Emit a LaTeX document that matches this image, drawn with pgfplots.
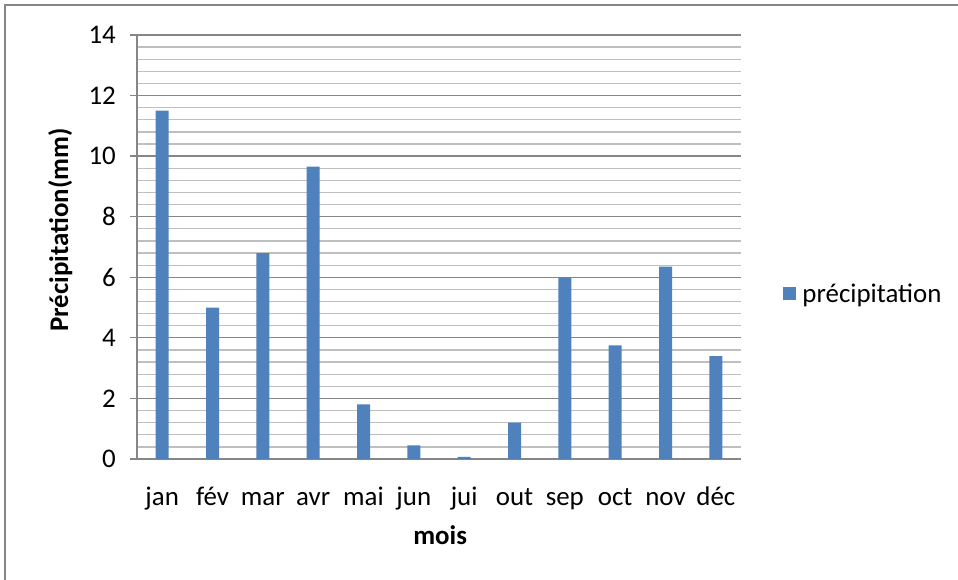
\documentclass[border=0pt]{standalone}
\usepackage{fontspec}
\setmainfont{Carlito}
\usepackage{pgfplots}
\pgfplotsset{compat=1.18}
\definecolor{barblue}{HTML}{4F81BD}
\definecolor{majgrid}{HTML}{868686}
\definecolor{mingrid}{HTML}{BFBFBF}
\pgfplotstableread{
idx val
0 11.5
1 5.0
2 6.8
3 9.65
4 1.8
5 0.45
6 0.07
7 1.2
8 6.0
9 3.75
10 6.35
11 3.4
}\precip
\begin{document}
\begin{tikzpicture}[x=1bp,y=1bp]
\path[use as bounding box] (0,0) rectangle (958,580);
\draw[line width=2bp, majgrid] (5,0) -- (5,575) -- (958,575);
\begin{axis}[
  at={(137bp,121bp)}, anchor=south west,
  width=604bp, height=424bp, scale only axis,
  font=\fontsize{27}{32}\selectfont,
  /pgf/number format/assume math mode=true,
  ymin=0, ymax=14, ytick={0,2,...,14}, minor y tick num=4,
  xmin=-0.5, xmax=11.5, xtick={0,...,11},
  xticklabels={jan,fév,mar,avr,mai,jun,jui,out,sep,oct,nov,déc},
  axis lines*=left,
  axis line style={majgrid, line width=1.3bp},
  ymajorgrids, yminorgrids,
  major grid style={majgrid, line width=1.3bp},
  minor grid style={mingrid, line width=1.3bp},
  tick align=outside, major tick length=7bp, minor tick length=0pt,
  ytick style={majgrid, line width=1.3bp},
  xtick style={draw=none},
  ylabel={\textbf{Précipitation(mm)}},
  ylabel style={at={(axis description cs:-0.127,0.54)}, anchor=center},
  xlabel={\textbf{mois}},
  xlabel style={at={(axis description cs:0.502,-0.179)}, anchor=center},
  yticklabel style={inner sep=0pt, xshift=-14bp},
  xticklabel style={anchor=base, inner sep=0pt, yshift=-40bp},
  legend style={at={(axis description cs:1.07,0.39)}, anchor=west, draw=none, fill=none,
    font=\fontsize{27}{32}\selectfont, inner sep=0pt},
  legend image code/.code={\fill[barblue] (0bp,-6.5bp) rectangle (13bp,6.5bp);\path (17bp,0bp);},
]
\addplot[ybar, bar width=13bp, fill=barblue, draw=none, bar shift=0pt] table[x=idx,y=val] {\precip};
\addlegendentry{précipitation}
\end{axis}
\end{tikzpicture}
\end{document}
